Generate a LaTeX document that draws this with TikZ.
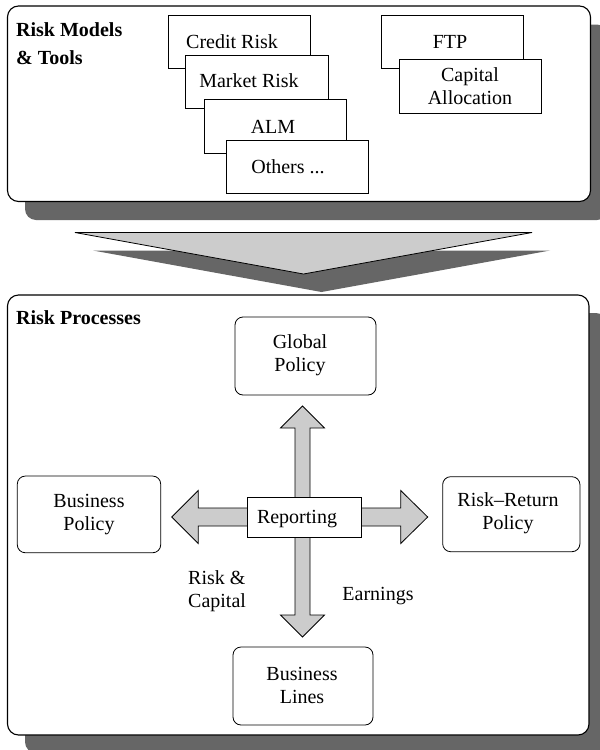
\documentclass[tikz,border=0pt]{standalone}
\usepackage{fontspec}
\setmainfont{Liberation Serif}
\definecolor{shadowgray}{HTML}{666666}
\definecolor{arrowgray}{HTML}{CCCCCC}
\begin{document}
\begin{tikzpicture}[x=1pt,y=-1pt,
  every node/.style={font=\fontsize{20}{23}\selectfont, inner sep=0pt},
  panel/.style={draw=black, line width=1.1pt, fill=white, rounded corners=11pt},
  dropshadow/.style={fill=shadowgray, draw=none, rounded corners=11pt},
  toolbox/.style={draw=black, line width=0.8pt, fill=white},
  policybox/.style={draw=black, line width=0.8pt, fill=white, rounded corners=8pt},
  blockarrow/.style={draw=black, line width=0.8pt, fill=arrowgray, line join=miter},
  heading/.style={font=\fontsize{20}{23}\selectfont\bfseries, anchor=base west},
  txt/.style={align=center, text height=14pt, text depth=4pt}]

\clip (0,0) rectangle (600,750);
\fill[white] (0,0) rectangle (600,750);

% ---------- Risk models & tools panel ----------
\fill[dropshadow] (25,24.5) rectangle (608,220);
\node[panel, minimum width=583pt, minimum height=195.5pt] (tools) at (299,103.75) {};
\node[heading] (toolsA) at (16,36.6) {Risk Models};
\node[heading] (toolsB) at (16,64.6) {\& Tools};

\node[toolbox, minimum width=142pt, minimum height=53pt] (credit) at (239,41.5) {};
\node[txt] (creditT) at (232,43) {Credit Risk};
\node[toolbox, minimum width=143pt, minimum height=53pt] (market) at (256.5,81.5) {};
\node[txt] (marketT) at (249,82) {Market Risk};
\node[toolbox, minimum width=142pt, minimum height=54pt] (alm) at (275,126) {};
\node[txt] (almT) at (273,128) {ALM};
\node[toolbox, minimum width=142pt, minimum height=53pt] (others) at (297,166.5) {};
\node[txt] (othersT) at (288,168) {Others ...};

\node[toolbox, minimum width=142pt, minimum height=53pt] (ftp) at (452,41.5) {};
\node[txt] (ftpT) at (450,43) {FTP};
\node[toolbox, minimum width=142pt, minimum height=54pt] (capital) at (470,86) {};
\node[align=center] (capitalT) at (470,86) {Capital\\Allocation};

% ---------- downward chevron ----------
\fill[shadowgray] (93,250.5) -- (550,250.5) -- (321.5,292) -- cycle;
\draw[blockarrow] (75,232.5) -- (532,232.5) -- (303.5,274) -- cycle;

% ---------- Risk processes panel ----------
\fill[dropshadow] (25,313) rectangle (607,753);
\node[panel, minimum width=581.5pt, minimum height=440pt] (proc) at (298.25,515) {};
\node[heading] (procT) at (16,324.6) {Risk Processes};

\node[policybox, minimum width=141pt, minimum height=78pt] (global) at (305.5,356) {};
\node[align=center] (globalT) at (300,355.5) {Global\\Policy};

\node[policybox, minimum width=143.4pt, minimum height=76.7pt] (bpolicy) at (89,514.4) {};
\node[align=center] (bpolicyT) at (89,515) {Business\\Policy};

\node[policybox, minimum width=137.3pt, minimum height=75pt] (rrpolicy) at (511.3,514.2) {};
\node[align=center] (rrpolicyT) at (508,513.5) {Risk--Return\\Policy};

\node[policybox, minimum width=140pt, minimum height=78pt] (blines) at (303,686) {};
\node[align=center] (blinesT) at (302,685.5) {Business\\Lines};

% ---------- reporting cross of block arrows ----------
\coordinate (hub) at (302.5,517);
\draw[blockarrow, shift={(hub)}]
  (-130.8,0) -- (-104.2,-26.5) -- (-104.2,-9) -- (98.2,-9) -- (98.2,-26.5)
  -- (125.2,0) -- (98.2,26.5) -- (98.2,9) -- (-104.2,9) -- (-104.2,26.5) -- cycle;
\draw[blockarrow, shift={(hub)}]
  (0,-111) -- (22,-89) -- (7.5,-89) -- (7.5,98) -- (22,98) -- (0,120)
  -- (-22,98) -- (-7.5,98) -- (-7.5,-89) -- (-22,-89) -- cycle;

\node[toolbox, minimum width=114pt, minimum height=40pt] (report) at (304,517) {};
\node[txt] (reportT) at (297,518.5) {Reporting};

\node[align=left, anchor=west] (riskcap) at (188,591.5) {Risk \&\\Capital};
\node[txt] (earn) at (378,595.5) {Earnings};

\end{tikzpicture}
\end{document}
